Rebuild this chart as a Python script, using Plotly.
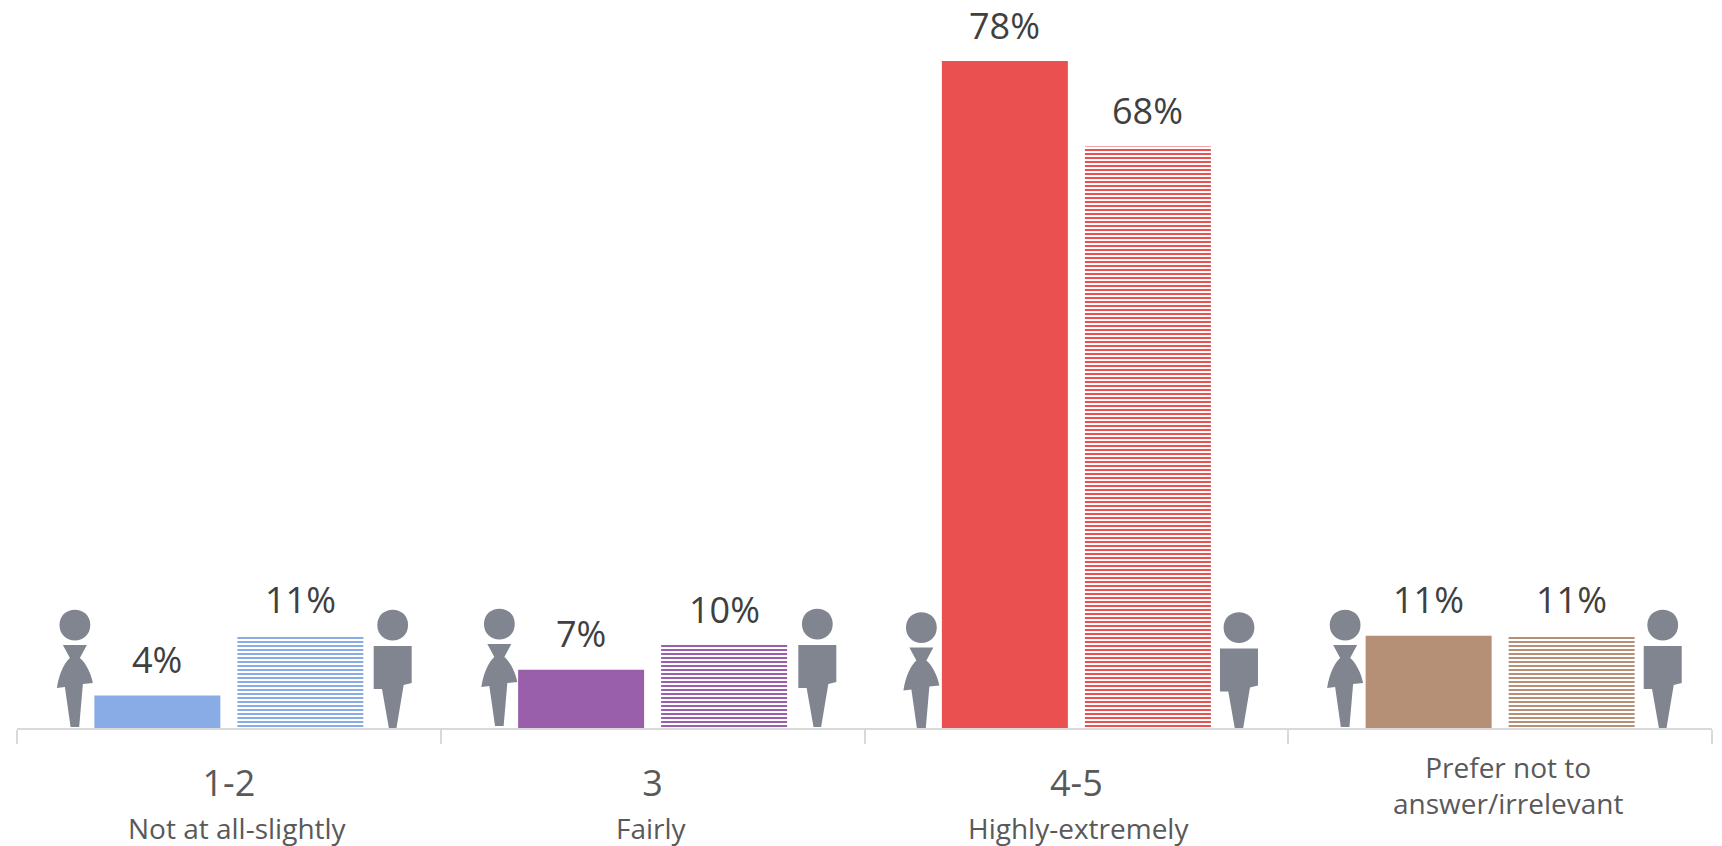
import plotly.graph_objects as go

categories = ["1-2", "3", "4-5", "Prefer not to answer/irrelevant"]
tick_labels = ["1-2", "3", "4-5", ""]
sub_labels = ["Not at all-slightly", "Fairly", "Highly-extremely", "Prefer not to<br>answer/irrelevant"]
women_values = [3.8, 6.8, 78.0, 10.8]
men_values = [10.8, 9.7, 68.0, 10.8]
women_labels = ["4%", "7%", "78%", "11%"]
men_labels = ["11%", "10%", "68%", "11%"]
colors = ["#8AACE6", "#9A5FAA", "#EB5050", "#B69076"]

ICON = "#808590"
AXIS = "#D9D9D9"
FONT = "Open Sans"
positions = list(range(len(categories)))

fig = go.Figure()
fig.add_bar(x=positions, y=women_values, name="Women",
            marker=dict(color=colors, line_width=0))
fig.add_bar(x=positions, y=men_values, name="Men",
            marker=dict(color="white", line_width=0,
                        pattern=dict(shape="-", size=4, solidity=0.5, fgcolor=colors,
                                     bgcolor="white", fillmode="replace")))
fig.update_traces(hoverinfo="skip")


def person(pos, dx, female, lift=0):
    """Decorative pictogram, anchored to a category on the axis; offsets are pixels."""
    common = dict(xref="x", yref="y", xsizemode="pixel", ysizemode="pixel",
                  xanchor=pos, yanchor=0, fillcolor=ICON, line_width=0, layer="above")
    r, k = 15.4, 20.5
    hy = 103 + lift
    fig.add_shape(type="path", path=(
        f"M {dx-r} {hy} C {dx-r} {hy+k} {dx+r} {hy+k} {dx+r} {hy} "
        f"C {dx+r} {hy-k} {dx-r} {hy-k} {dx-r} {hy} Z"), **common)
    d = lift
    if female:
        body = (f"M {dx-12} {83+d} L {dx+12} {83+d} L {dx+5} {70+d} "
                f"C {dx+11} {65+d} {dx+16} {55+d} {dx+18} {45+d} L {dx+8} {44+d} L {dx+4.3} {1+d} "
                f"L {dx-4.3} {1+d} L {dx-10} {41+d} L {dx-18} {40+d} "
                f"C {dx-16} {53+d} {dx-11} {65+d} {dx-5} {70+d} Z")
    else:
        body = (f"M {dx-19} {82+d} L {dx+19} {82+d} L {dx+19} {45+d} L {dx+11} {43+d} L {dx+3.8} {0+d} "
                f"L {dx-3.8} {0+d} L {dx-10.7} {39+d} L {dx-19} {39+d} Z")
    fig.add_shape(type="path", path=body, **common)


woman_dx = [-154, -153.3, -155, -155]
man_dx = [163.8, 164.7, 162.6, 162.6]
lifts = [0, 1, -2.5, 0]
sub_shift = [-100, -100, -100, -57]
sub_dx = [8.8, -1, 2, 7.7]
for i in positions:
    person(i, woman_dx[i], True, lifts[i])
    person(i, man_dx[i], False, lifts[i])
    fig.add_annotation(x=i, xref="x", y=0, yref="y", xshift=sub_dx[i], yshift=sub_shift[i], yanchor="middle",
                       text=sub_labels[i], showarrow=False,
                       font=dict(size=28, color="#595959", family=FONT))
    for value, label, xs in ((women_values[i], women_labels[i], -71.5), (men_values[i], men_labels[i], 71.5)):
        fig.add_annotation(x=i, xref="x", y=value, yref="y", xshift=xs, yshift=36, yanchor="middle",
                           text=label, showarrow=False,
                           font=dict(size=36, color="#404040", family=FONT))

fig.update_layout(
    width=1722, height=846, autosize=False, showlegend=False,
    margin=dict(l=17, r=10, t=8, b=118, pad=0),
    paper_bgcolor="white", plot_bgcolor="white",
    barmode="group", bargap=0.325, bargroupgap=0.119,
)
fig.update_xaxes(tickmode="array", tickvals=positions, ticktext=tick_labels,
                 range=[-0.5, 3.5], type="category",
                 tickson="boundaries", ticks="outside", ticklen=14, tickwidth=1.5, tickcolor=AXIS,
                 showline=True, linecolor=AXIS, linewidth=1.5, showgrid=False, zeroline=False,
                 ticklabelstandoff=23,
                 tickfont=dict(size=36, color="#595959", family=FONT))
fig.update_yaxes(range=[0, 84.2], visible=False, showgrid=False, zeroline=False)
fig.write_html("out.html", config={"displayModeBar": False},
               post_script="document.body.style.margin='0';")
